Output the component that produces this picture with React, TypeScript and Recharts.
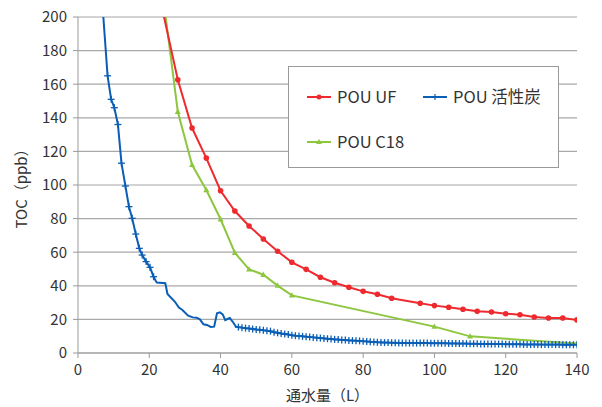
import React from 'react';
import { LineChart, Line, XAxis, YAxis, CartesianGrid, Legend } from 'recharts';

const FONT = "'Noto Sans CJK JP', 'Noto Sans', sans-serif";
const TEXT_COLOR = '#333333';

const xTicks = [0, 20, 40, 60, 80, 100, 120, 140];
const yTicks = [0, 20, 40, 60, 80, 100, 120, 140, 160, 180, 200];
const xTitle = '通水量（L）';
const yTitle = 'TOC（ppb）';

const seriesNames = ['POU UF', 'POU 活性炭', 'POU C18'];
const seriesColors = ['#EE2A2F', '#0A5EB5', '#8DC63F'];

// POU UF
const ufX = [20, 28, 32, 36, 40, 44, 48, 52, 56, 60, 64, 68, 72, 76, 80, 84, 88, 96, 100, 104, 108, 112, 116, 120, 124, 128, 132, 136, 140];
const ufY = [240, 162.6, 133.9, 116, 96.6, 84.5, 75.6, 67.9, 60.6, 54.0, 49.8, 45.1, 41.8, 39.1, 36.7, 35.0, 32.6, 29.6, 28.2, 27.2, 26.0, 24.8, 24.4, 23.4, 22.8, 21.4, 20.8, 20.8, 19.7];

// POU C18
const c18X = [24, 28, 32, 36, 40, 44, 48, 52, 56, 60, 100, 110, 140];
const c18Y = [210, 143.6, 112, 97, 79.6, 59.7, 49.8, 46.6, 40.1, 34.3, 15.7, 9.9, 5.6];

// POU 活性炭
const acX = [
  6.5, 8.3, 9.3, 10.2, 11.2, 12.2, 13.3, 14.3, 15.2, 16.2, 17.2, 18.0, 19.1, 20.2, 21.2,
  22.1, 24.5, 25.1, 27.2, 28.3, 29.3, 30.9, 32.2, 33.3, 34.2, 35.2, 36.2, 37.2, 38.2, 39.0,
  39.8, 40.6, 41.3, 42.1, 42.6, 43.6, 44.3,
  45, 46, 47, 48, 49, 50, 51, 52, 53, 54, 55, 56, 57, 58, 59, 60, 61, 62, 63, 64, 65, 66,
  67, 68, 69, 70, 71, 72, 73, 74, 75, 76, 77, 78, 79, 80, 81, 82, 83, 84, 85, 86, 87, 88,
  89, 90, 91, 92, 93, 94, 95, 96, 97, 98, 99, 100, 101, 102, 103, 104, 105, 106, 107, 108,
  109, 110, 111, 112, 113, 114, 115, 116, 117, 118, 119, 120, 121, 122, 123, 124, 125, 126,
  127, 128, 129, 130, 131, 132, 133, 134, 135, 136, 137, 138, 139, 140,
];
const acY = [
  218, 165, 151, 146, 136, 113, 99.4, 87.1, 80.2, 70.8, 62.3, 58.3, 54.4, 51.0, 45.4,
  41.9, 41.5, 35.1, 30.5, 27.0, 25.6, 22.2, 21.2, 21.0, 20.0, 17.1, 16.7, 15.5, 15.7, 23.6,
  24.2, 23.0, 19.6, 20.4, 20.8, 18.0, 15.7,
  15.4, 15.1, 14.8, 14.6, 14.3, 14.0, 13.8, 13.5, 13.3, 13.0, 12.4, 12.0, 11.6, 11.3, 11.0, 10.6, 10.3, 10.1, 9.9, 9.7, 9.5, 9.3,
  9.1, 8.9, 8.7, 8.5, 8.3, 8.1, 8.0, 7.8, 7.7, 7.5, 7.4, 7.3, 7.2, 7.0, 6.9, 6.7, 6.6, 6.4, 6.3, 6.2, 6.2, 6.1,
  6.1, 6.0, 6.0, 6.0, 5.9, 5.9, 5.9, 5.9, 5.9, 5.9, 5.8, 5.8, 5.8, 5.8, 5.8, 5.7, 5.7, 5.7, 5.6, 5.6,
  5.6, 5.5, 5.5, 5.5, 5.4, 5.4, 5.4, 5.3, 5.3, 5.3, 5.3, 5.2, 5.2, 5.2, 5.2, 5.2, 5.1, 5.1,
  5.1, 5.1, 5.1, 5.0, 5.0, 5.0, 5.0, 5.0, 5.0, 4.9, 4.9, 4.9, 4.9, 4.9,
];

const toPoints = (xs: number[], ys: number[]) => xs.map((x, i) => ({ x, y: ys[i] }));
const ufData = toPoints(ufX, ufY);
const c18Data = toPoints(c18X, c18Y);
const acData = toPoints(acX, acY);

const RedDot = (props: any) => {
  const { cx, cy, key } = props;
  if (cx == null || cy == null) return <g key={key} />;
  return <circle key={key} cx={cx} cy={cy} r={2.8} fill={seriesColors[0]} />;
};

const GreenDot = (props: any) => {
  const { cx, cy, key } = props;
  if (cx == null || cy == null) return <g key={key} />;
  return (
    <polygon
      key={key}
      points={`${cx},${cy - 3.2} ${cx - 3},${cy + 2.2} ${cx + 3},${cy + 2.2}`}
      fill={seriesColors[2]}
    />
  );
};

const BlueDot = (props: any) => {
  const { cx, cy, key, payload } = props;
  if (cx == null || cy == null) return <g key={key} />;
  const px = payload ? payload.x : 0;
  if (px > 21.5 && px < 45) return <g key={key} />;
  return (
    <g key={key} stroke={seriesColors[1]} strokeWidth={1.3}>
      <line x1={cx - 3.5} y1={cy} x2={cx + 3.5} y2={cy} />
      <line x1={cx} y1={cy - 3.5} x2={cx} y2={cy + 3.5} />
    </g>
  );
};

const LegendMarker = ({ idx }: { idx: number }) => {
  const c = seriesColors[idx];
  return (
    <svg width={24} height={10} style={{ position: 'absolute', left: 0, top: 0 }}>
      <line x1={0} y1={5} x2={24} y2={5} stroke={c} strokeWidth={2} />
      {idx === 0 && <circle cx={12} cy={5} r={2.5} fill={c} />}
      {idx === 1 && (
        <g stroke={c} strokeWidth={1.2}>
          <line x1={12} y1={2} x2={12} y2={8} />
        </g>
      )}
      {idx === 2 && <polygon points="12,2 9,7 15,7" fill={c} />}
    </svg>
  );
};

const legendLayout = [
  { idx: 0, left: 18, top: 25 },
  { idx: 1, left: 134, top: 25 },
  { idx: 2, left: 18, top: 70 },
];

const LegendContent = () => (
  <div
    style={{
      position: 'relative',
      width: 271,
      height: 102,
      boxSizing: 'border-box',
      border: '1.5px solid #9a9a9a',
      background: '#ffffff',
      fontFamily: FONT,
    }}
  >
    {legendLayout.map((it) => (
      <div key={it.idx} style={{ position: 'absolute', left: it.left, top: it.top, height: 10 }}>
        <LegendMarker idx={it.idx} />
        <span
          style={{
            position: 'absolute',
            left: 30,
            top: -7,
            fontSize: 16.5,
            lineHeight: '22px',
            whiteSpace: 'nowrap',
            color: TEXT_COLOR,
          }}
        >
          {seriesNames[it.idx]}
        </span>
      </div>
    ))}
  </div>
);

const XTitle = (props: any) => {
  const vb = props.viewBox || { x: 0, y: 0, width: 0, height: 0 };
  return (
    <text
      x={vb.x + vb.width / 2}
      y={vb.y + 48}
      textAnchor="middle"
      fontFamily={FONT}
      fontSize={15}
      fill={TEXT_COLOR}
    >
      {xTitle}
    </text>
  );
};

const YTitle = (props: any) => {
  const vb = props.viewBox || { x: 0, y: 0, width: 0, height: 0 };
  const cx = vb.x + 27;
  const cy = vb.y + vb.height / 2;
  return (
    <text
      x={cx}
      y={cy}
      transform={`rotate(-90, ${cx}, ${cy})`}
      textAnchor="middle"
      fontFamily={FONT}
      fontSize={15}
      fill={TEXT_COLOR}
    >
      {yTitle}
    </text>
  );
};

export default function App() {
  return (
    <div style={{ position: 'absolute', left: 0, top: 0, width: 602, height: 407, background: '#fff' }}>
      <LineChart width={602} height={407} margin={{ top: 17, right: 25, left: 0, bottom: 0 }}>
        <CartesianGrid vertical={false} stroke="#a8a8a8" strokeWidth={1.2} />
        <XAxis
          type="number"
          dataKey="x"
          domain={[0, 140]}
          ticks={xTicks}
          allowDataOverflow
          height={54}
          tickSize={5}
          tickMargin={6}
          stroke="#9a9a9a"
          tick={{ fill: TEXT_COLOR, fontSize: 15, fontFamily: FONT }}
          label={<XTitle />}
        />
        <YAxis
          type="number"
          domain={[0, 200]}
          ticks={yTicks}
          allowDataOverflow
          width={78}
          tickSize={5}
          tickMargin={6}
          stroke="#9a9a9a"
          tick={{ fill: TEXT_COLOR, fontSize: 15, fontFamily: FONT }}
          label={<YTitle />}
        />
        <Legend
          layout="horizontal"
          verticalAlign="middle"
          align="center"
          wrapperStyle={{ left: 288, top: 66, width: 271, height: 102 }}
          content={<LegendContent />}
        />
        <Line
          data={c18Data}
          dataKey="y"
          name={seriesNames[2]}
          type="linear"
          stroke={seriesColors[2]}
          strokeWidth={2}
          dot={GreenDot}
          activeDot={false}
          isAnimationActive={false}
        />
        <Line
          data={ufData}
          dataKey="y"
          name={seriesNames[0]}
          type="linear"
          stroke={seriesColors[0]}
          strokeWidth={2}
          dot={RedDot}
          activeDot={false}
          isAnimationActive={false}
        />
        <Line
          data={acData}
          dataKey="y"
          name={seriesNames[1]}
          type="linear"
          stroke={seriesColors[1]}
          strokeWidth={2}
          dot={BlueDot}
          activeDot={false}
          isAnimationActive={false}
        />
      </LineChart>
    </div>
  );
}
